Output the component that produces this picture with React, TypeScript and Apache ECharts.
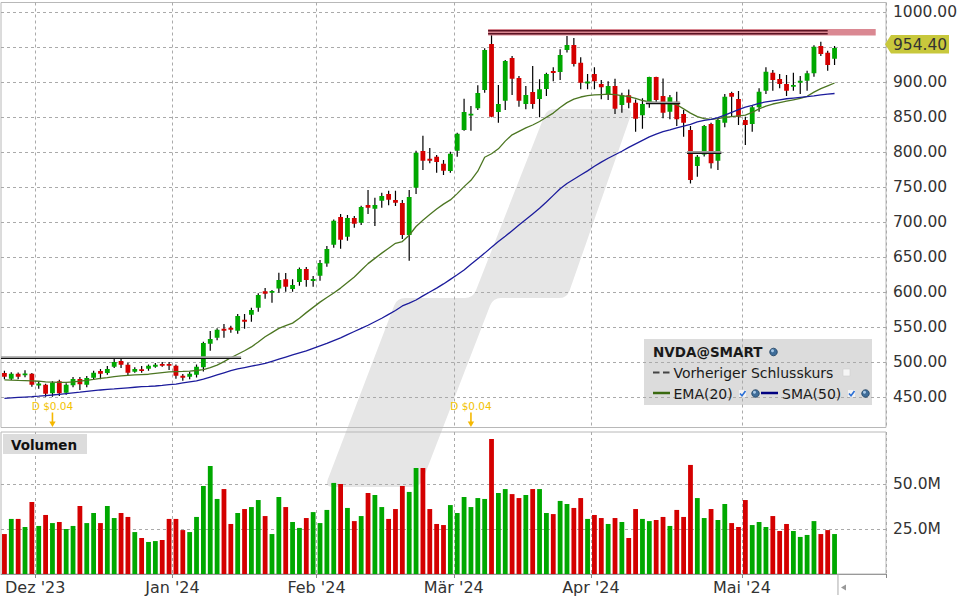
import React, { useEffect, useRef } from 'react';
import * as echarts from 'echarts';

// ---------- data ----------
const dates = [
  '2023-11-24', '2023-11-27', '2023-11-28', '2023-11-29', '2023-11-30',
  '2023-12-01', '2023-12-04', '2023-12-05', '2023-12-06', '2023-12-07', '2023-12-08', '2023-12-11', '2023-12-12', '2023-12-13', '2023-12-14', '2023-12-15',
  '2023-12-18', '2023-12-19', '2023-12-20', '2023-12-21', '2023-12-22', '2023-12-26', '2023-12-27', '2023-12-28', '2023-12-29',
  '2024-01-02', '2024-01-03', '2024-01-04', '2024-01-05', '2024-01-08', '2024-01-09', '2024-01-10', '2024-01-11', '2024-01-12', '2024-01-16',
  '2024-01-17', '2024-01-18', '2024-01-19', '2024-01-22', '2024-01-23', '2024-01-24', '2024-01-25', '2024-01-26', '2024-01-29', '2024-01-30', '2024-01-31',
  '2024-02-01', '2024-02-02', '2024-02-05', '2024-02-06', '2024-02-07', '2024-02-08', '2024-02-09', '2024-02-12', '2024-02-13', '2024-02-14',
  '2024-02-15', '2024-02-16', '2024-02-20', '2024-02-21', '2024-02-22', '2024-02-23', '2024-02-26', '2024-02-27', '2024-02-28', '2024-02-29',
  '2024-03-01', '2024-03-04', '2024-03-05', '2024-03-06', '2024-03-07', '2024-03-08', '2024-03-11', '2024-03-12', '2024-03-13', '2024-03-14',
  '2024-03-15', '2024-03-18', '2024-03-19', '2024-03-20', '2024-03-21', '2024-03-22', '2024-03-25', '2024-03-26', '2024-03-27', '2024-03-28',
  '2024-04-01', '2024-04-02', '2024-04-03', '2024-04-04', '2024-04-05', '2024-04-08', '2024-04-09', '2024-04-10', '2024-04-11', '2024-04-12',
  '2024-04-15', '2024-04-16', '2024-04-17', '2024-04-18', '2024-04-19', '2024-04-22', '2024-04-23', '2024-04-24', '2024-04-25', '2024-04-26',
  '2024-04-29', '2024-04-30',
  '2024-05-01', '2024-05-02', '2024-05-03', '2024-05-06', '2024-05-07', '2024-05-08', '2024-05-09', '2024-05-10', '2024-05-13', '2024-05-14',
  '2024-05-15', '2024-05-16', '2024-05-17', '2024-05-20',
];
const padSlots = ['p1', 'p2', 'p3', 'p4', 'p5', 'p6', 'p7'];

const openP = [
  484.8, 476.7, 483.8, 481.5, 483.8, 467.1, 468.1, 455.7, 472.9, 456.7,
  467.1, 476.2, 468.1, 478.1, 487.6, 484.8, 493.8, 501.9, 496.7, 486.7,
  490.0, 490.9, 493.8, 497.6, 497.6, 495.2, 480.9, 479.5, 482.3, 492.8,
  526.6, 535.2, 548.0, 549.5, 545.2, 560.9, 568.0, 578.0, 601.4, 599.5,
  605.4, 618.7, 604.7, 614.7, 633.2, 616.1, 623.7, 641.3, 668.0, 707.5,
  679.4, 706.1, 699.4, 724.7, 719.4, 730.9, 740.4, 731.8, 727.5, 681.8,
  749.4, 801.8, 790.9, 793.8, 783.8, 773.3, 802.4, 831.9, 852.8, 862.8,
  889.0, 954.7, 857.6, 873.8, 934.7, 906.2, 869.0, 886.2, 876.2, 890.5,
  916.2, 914.7, 946.2, 953.3, 928.1, 898.6, 911.9, 897.6, 883.3, 894.7,
  867.5, 881.4, 870.9, 852.8, 871.8, 907.5, 880.4, 858.0, 872.3, 854.7,
  831.8, 780.4, 797.0, 840.4, 788.0, 842.3, 884.7, 876.1, 846.1, 840.4,
  864.2, 888.0, 913.8, 904.7, 897.6, 893.8, 899.5, 902.3, 912.8, 951.9,
  942.3, 933.8,
];
const highP = [
  488.0, 486.0, 485.5, 488.6, 484.8, 472.9, 469.5, 472.9, 475.2, 470.0,
  479.0, 479.0, 480.5, 488.0, 490.5, 494.8, 504.8, 504.8, 499.5, 492.9,
  494.8, 497.0, 499.0, 500.4, 500.4, 497.0, 483.3, 486.6, 497.0, 529.5,
  544.7, 548.5, 554.7, 552.3, 569.0, 569.0, 578.0, 598.5, 606.1, 603.3,
  628.0, 627.5, 618.5, 635.6, 636.0, 623.2, 646.0, 666.1, 704.2, 711.8,
  710.4, 709.0, 723.7, 746.1, 735.1, 742.3, 745.2, 745.2, 731.8, 746.1,
  802.3, 823.7, 806.2, 796.2, 789.0, 800.9, 828.0, 876.6, 866.2, 895.7,
  948.6, 972.4, 896.2, 931.9, 937.6, 909.0, 894.7, 923.3, 904.3, 913.8,
  921.4, 947.1, 966.2, 963.3, 935.7, 911.9, 921.4, 903.3, 901.4, 905.2,
  885.2, 889.9, 875.6, 877.1, 908.0, 908.0, 905.6, 881.8, 886.6, 860.4,
  837.5, 796.1, 839.0, 842.3, 848.5, 883.3, 886.6, 887.6, 850.9, 866.1,
  891.4, 921.4, 917.6, 911.9, 910.4, 913.8, 909.0, 916.6, 952.8, 958.0,
  945.2, 951.9,
];
const lowP = [
  475.7, 474.8, 476.0, 478.6, 465.2, 462.4, 451.0, 451.0, 451.9, 453.8,
  464.3, 460.5, 464.3, 474.8, 475.7, 482.4, 491.9, 491.9, 481.4, 485.2,
  485.2, 488.0, 492.3, 493.8, 489.0, 476.6, 473.8, 475.7, 478.5, 487.0,
  516.6, 531.4, 535.2, 542.3, 540.9, 548.0, 558.0, 572.3, 590.9, 585.2,
  599.5, 600.9, 600.9, 609.4, 608.0, 608.0, 616.6, 636.6, 663.7, 662.3,
  673.7, 692.3, 696.1, 711.8, 694.7, 720.9, 724.2, 723.3, 676.1, 645.2,
  740.4, 774.7, 784.3, 770.9, 767.6, 770.9, 793.8, 830.9, 830.9, 860.5,
  885.2, 850.0, 842.4, 860.5, 881.9, 865.2, 861.4, 862.4, 850.0, 880.5,
  901.4, 903.3, 942.4, 922.4, 890.0, 890.0, 890.0, 875.7, 874.7, 854.7,
  856.6, 862.8, 829.4, 833.7, 863.7, 869.9, 848.5, 847.1, 837.5, 822.3,
  755.6, 765.2, 794.0, 777.0, 774.7, 835.7, 850.9, 839.0, 810.4, 829.5,
  858.0, 883.3, 888.0, 891.4, 880.4, 888.0, 883.3, 888.0, 908.0, 937.6,
  916.6, 924.7,
];
const closeP = [
  479.5, 483.8, 479.5, 483.8, 468.1, 469.5, 455.2, 471.0, 455.7, 468.1,
  476.2, 468.6, 477.6, 485.2, 483.8, 490.5, 500.5, 496.7, 485.2, 490.5,
  488.0, 495.2, 496.6, 495.2, 495.2, 480.9, 478.0, 483.8, 493.8, 527.6,
  533.3, 546.6, 545.2, 546.6, 566.1, 558.0, 574.7, 596.1, 598.0, 601.9,
  617.6, 608.0, 610.4, 633.2, 617.5, 619.0, 641.8, 661.8, 702.3, 675.2,
  706.1, 698.0, 721.8, 720.9, 724.7, 737.5, 732.3, 728.0, 681.8, 736.1,
  799.4, 788.0, 788.1, 786.2, 773.8, 798.1, 826.6, 857.6, 854.7, 884.7,
  946.2, 850.9, 869.0, 930.5, 905.2, 873.8, 881.9, 869.0, 890.0, 911.9,
  913.3, 939.0, 953.3, 926.2, 899.5, 900.9, 901.4, 892.8, 894.7, 862.4,
  881.4, 870.9, 848.0, 869.0, 907.5, 874.7, 856.6, 878.5, 847.1, 842.3,
  760.4, 793.7, 837.5, 784.2, 846.1, 879.5, 879.5, 850.9, 839.0, 864.2,
  886.6, 915.2, 903.3, 897.6, 888.0, 896.1, 902.3, 912.8, 950.9, 940.4,
  924.7, 949.0,
];
const volumeM = [
  22.2, 30.6, 30.6, 26.1, 40.0, 26.7, 32.8, 28.3, 28.9, 25.0,
  26.7, 37.8, 28.3, 33.9, 28.3, 37.8, 31.1, 33.9, 31.7, 23.3,
  20.0, 17.8, 18.3, 18.9, 30.6, 30.6, 24.4, 23.3, 31.7, 48.9,
  60.0, 41.7, 47.2, 27.8, 33.9, 36.1, 37.2, 41.1, 32.2, 22.2,
  42.8, 37.2, 28.9, 25.6, 31.1, 34.4, 28.3, 35.6, 50.6, 50.0,
  36.7, 29.4, 32.2, 45.0, 43.9, 37.2, 30.6, 36.1, 48.9, 45.6,
  58.9, 58.9, 36.1, 27.8, 27.2, 38.3, 33.9, 42.8, 37.2, 42.2,
  41.7, 75.0, 45.0, 47.2, 44.4, 42.2, 43.9, 47.2, 47.2, 33.9,
  33.3, 40.6, 38.9, 36.7, 42.2, 30.6, 32.8, 31.1, 27.8, 31.1,
  28.9, 20.0, 36.1, 30.6, 29.4, 30.0, 31.7, 26.7, 35.6, 31.7,
  60.6, 42.2, 31.1, 36.1, 30.0, 38.9, 28.3, 26.1, 41.1, 27.2,
  28.9, 26.1, 32.2, 23.9, 27.8, 23.9, 20.6, 21.7, 29.4, 22.2,
  24.4, 22.2,
];
const ema20 = [
  475.0, 474.6, 474.2, 474.0, 473.5, 473.0, 472.2, 471.8, 471.4, 471.5,
  472.2, 473.0, 474.2, 475.5, 477.0, 478.2, 479.5, 480.6, 481.4, 482.0,
  482.5, 483.0, 484.2, 485.4, 486.5, 486.8, 487.0, 487.5, 488.3, 489.5,
  492.5, 496.0, 501.0, 506.5, 511.5, 516.5, 522.0, 529.0, 536.5, 542.5,
  548.5, 552.5, 556.0, 563.0, 571.0, 578.5, 586.0, 592.5, 599.0, 606.0,
  614.0, 622.0, 631.5, 641.0, 648.5, 656.0, 663.0, 670.0, 672.5, 681.5,
  694.0, 703.0, 711.0, 719.0, 726.0, 732.0, 741.0, 751.0, 760.0, 773.0,
  793.0, 798.0, 805.0, 816.0, 825.0, 830.0, 835.0, 839.0, 844.0, 850.0,
  856.0, 864.0, 871.0, 876.0, 879.0, 881.0, 882.0, 882.5, 883.0, 882.5,
  881.0, 879.5, 877.0, 874.0, 872.0, 871.0, 870.0, 869.5, 868.0, 862.0,
  856.0, 851.0, 848.0, 847.0, 848.0, 850.0, 851.0, 852.0, 853.0, 857.0,
  862.0, 866.0, 869.0, 871.0, 873.0, 875.0, 877.0, 880.0, 886.0, 891.0,
  895.0, 899.0,
];
const sma50 = [
  448.6, 449.2, 449.8, 450.4, 451.0, 451.7, 452.5, 453.3, 454.3, 455.3,
  456.3, 457.3, 458.4, 459.5, 460.5, 461.3, 462.0, 462.8, 463.6, 464.4,
  465.2, 465.6, 466.2, 467.0, 468.0, 469.0, 470.5, 472.0, 473.5, 476.0,
  479.0, 482.0, 485.0, 488.0, 490.5, 492.5, 494.5, 496.5, 498.5, 501.5,
  504.5, 507.5, 510.5, 513.5, 516.5, 520.0, 523.5, 527.0, 531.0, 535.0,
  539.5, 544.0, 548.5, 553.0, 558.0, 563.0, 568.5, 574.0, 580.5, 584.5,
  589.0, 595.0, 600.5, 606.0, 612.0, 618.5, 625.0, 632.0, 640.0, 648.0,
  656.0, 664.5, 672.5, 680.0, 688.0, 696.0, 704.0, 712.0, 720.0, 729.0,
  738.5, 748.0, 755.5, 761.5, 767.5, 773.5, 780.0, 786.0, 791.5, 796.5,
  801.5, 807.0, 812.0, 817.0, 822.0, 826.0, 829.5, 832.0, 835.0, 837.5,
  840.0, 843.5, 845.5, 847.0, 849.5, 853.0, 857.0, 861.0, 864.5, 867.0,
  870.0, 872.0, 873.5, 875.0, 876.5, 877.5, 878.5, 879.5, 880.5, 882.0,
  883.0, 884.0,
];
const priceTicks = [450, 500, 550, 600, 650, 700, 750, 800, 850, 900, 950, 1000];
const volumeTicks = [25, 50];
const monthNames = ['Jan', 'Feb', 'Mär', 'Apr', 'Mai', 'Jun', 'Jul', 'Aug', 'Sep', 'Okt', 'Nov', 'Dez'];
const lastPrice = 954.4;
const dividendDates = ['2023-12-05', '2024-03-05'];
const dividendText = 'D $0.04';
const rangeHighStart = '2024-03-08';
const rangeHighLineEnd = '2024-05-17';
const rangeHighBand = [966.9, 976.1];
const rangeHighLines = [969.2, 973.8];
const supportLines = [
  { from: '2023-11-24', to: '2024-01-16', value: 505.5 },
  { from: '2024-04-11', to: '2024-04-17', value: 869.5 },
  { from: '2024-04-19', to: '2024-04-25', value: 798.6 },
];

const UP = '#00a800';
const DOWN = '#d40000';
const FONT = 'DejaVu Sans';

// decorative background watermark (rounded slanted strokes)
const WATERMARK_D =
  'M333 487 Q325 487 327.8 479.5 L394.2 305.5 Q397 298 405 298 L465 298 Q473 298 475.9 290.6 ' +
  'L544.1 116.4 Q547 109 555 109 L625 109 Q633 109 630.4 116.6 L569.6 290.4 Q567 298 559 298 ' +
  'L501 298 Q493 298 490.1 305.5 L422.9 479.5 Q420 487 412 487 Z';
let watermarkRegistered = false;

export default function App() {
  const ref = useRef<HTMLDivElement>(null);

  useEffect(() => {
    if (!ref.current) return;
    if (!watermarkRegistered) {
      echarts.graphic.registerShape('wmark', echarts.graphic.extendPath(WATERMARK_D, {}) as any);
      watermarkRegistered = true;
    }
    const chart = echarts.init(ref.current, null, { renderer: 'svg' });
    const categories = [...dates, ...padSlots];
    const monthStart = new Set<number>();
    dates.forEach((d, i) => {
      if (i > 0 && d.slice(0, 7) !== dates[i - 1].slice(0, 7)) monthStart.add(i);
    });
    const isMonthStart = (i: number) => monthStart.has(i);
    const monthLabel = (v: string) => {
      const parts = v.split('-');
      if (parts.length < 2) return '';
      return `${monthNames[+parts[1] - 1]} '${parts[0].slice(2)}`;
    };
    const gridLine = { color: '#aaaaaa', type: [3, 3], width: 1 };
    // axis labels hidden where the last-price tag covers them
    const priceLabelValues = priceTicks.filter((v) => Math.abs(v - lastPrice) > 15);

    const candleData = dates.map((d, i) => [i, openP[i], closeP[i], lowP[i], highP[i]]);

    const option: any = {
      animation: false,
      backgroundColor: '#ffffff',
      textStyle: { fontFamily: FONT },
      grid: [
        { left: 1, top: 2.5, width: 885, height: 425, show: true, borderColor: '#b8b8b8', borderWidth: 1, backgroundColor: 'transparent', containLabel: false, outerBoundsMode: 'none' },
        { left: 1, top: 432, width: 885, height: 142, show: true, borderColor: '#b8b8b8', borderWidth: 1, backgroundColor: 'transparent', containLabel: false, outerBoundsMode: 'none' },
      ],
      xAxis: [
        {
          type: 'category', gridIndex: 0, data: categories, boundaryGap: true,
          axisLine: { show: false }, axisTick: { show: false }, axisLabel: { show: false },
          splitLine: { show: true, interval: (i: number) => isMonthStart(i), lineStyle: gridLine },
        },
        {
          type: 'category', gridIndex: 1, data: categories, boundaryGap: true,
          axisLine: { show: true, lineStyle: { color: '#999999', width: 1 } },
          axisTick: { show: true, interval: (i: number) => isMonthStart(i), length: 4, lineStyle: { color: '#888888' } },
          axisLabel: {
            show: true, interval: (i: number) => isMonthStart(i), formatter: (v: string) => monthLabel(v),
            color: '#333333', fontSize: 16, fontFamily: FONT, margin: 5, padding: [0, 7, 0, 0],
          },
          splitLine: { show: true, interval: (i: number) => isMonthStart(i), lineStyle: gridLine },
        },
      ],
      yAxis: [
        {
          type: 'value', gridIndex: 0, position: 'right', min: 406.9, max: 1014,
          splitLine: { show: false }, axisLine: { show: false }, axisTick: { show: false },
          axisLabel: { customValues: priceLabelValues, formatter: (v: number) => v.toFixed(2), color: '#333333', fontSize: 15.5, fontFamily: FONT, margin: 7 },
        },
        {
          type: 'value', gridIndex: 1, position: 'right', min: 0, max: 78.9,
          splitLine: { show: false }, axisLine: { show: false }, axisTick: { show: false },
          axisLabel: { customValues: volumeTicks, formatter: (v: number) => v.toFixed(1) + 'M', color: '#333333', fontSize: 15.5, fontFamily: FONT, margin: 7 },
        },
      ],
      series: [
        {
          type: 'line', name: 'priceGrid', xAxisIndex: 0, yAxisIndex: 0, data: [], silent: true,
          markLine: { z: 1, silent: true, symbol: ['none', 'none'], label: { show: false }, lineStyle: gridLine, emphasis: { disabled: true }, data: priceTicks.map((v) => ({ yAxis: v })) },
        },
        {
          type: 'line', name: 'volGrid', xAxisIndex: 1, yAxisIndex: 1, data: [], silent: true,
          markLine: { z: 1, silent: true, symbol: ['none', 'none'], label: { show: false }, lineStyle: gridLine, emphasis: { disabled: true }, data: volumeTicks.map((v) => ({ yAxis: v })) },
        },
        {
          type: 'custom', name: 'NVDA@SMART', xAxisIndex: 0, yAxisIndex: 0, z: 3, silent: true, clip: true,
          encode: { x: 0, y: [1, 2, 3, 4] },
          data: candleData,
          renderItem: (params: any, api: any) => {
            const i = api.value(0);
            const o = api.value(1), c = api.value(2), l = api.value(3), h = api.value(4);
            const pHi = api.coord([i, h]);
            const pLo = api.coord([i, l]);
            const pTop = api.coord([i, Math.max(o, c)]);
            const pBot = api.coord([i, Math.min(o, c)]);
            const bw = api.size([1, 0])[0] * 0.7;
            const raw = pBot[1] - pTop[1];
            const hgt = Math.max(raw, 1.8);
            return {
              type: 'group',
              children: [
                { type: 'line', shape: { x1: pHi[0], y1: pHi[1], x2: pLo[0], y2: pLo[1] }, style: { stroke: '#000000', lineWidth: 1.2 } },
                { type: 'rect', shape: { x: pTop[0] - bw / 2, y: pTop[1] - (hgt - raw) / 2, width: bw, height: hgt }, style: { fill: c >= o ? UP : DOWN } },
              ],
            };
          },
        },
        {
          type: 'line', name: 'EMA(20)', xAxisIndex: 0, yAxisIndex: 0, data: ema20, z: 4, silent: true,
          symbol: 'none', showSymbol: false, lineStyle: { color: '#4c7622', width: 1.3 },
        },
        {
          type: 'line', name: 'SMA(50)', xAxisIndex: 0, yAxisIndex: 0, data: sma50, z: 4, silent: true,
          symbol: 'none', showSymbol: false, lineStyle: { color: '#1c1c9c', width: 1.3 },
        },
        {
          type: 'bar', name: 'Volumen', xAxisIndex: 1, yAxisIndex: 1, z: 2, silent: true, barWidth: '70%',
          data: volumeM.map((v, i) => ({ value: v, itemStyle: { color: closeP[i] >= openP[i] ? UP : DOWN } })),
        },
      ],
    };
    chart.setOption(option);

    // ---------- annotations placed through the chart's own scales ----------
    const P = (i: number, v: number) => chart.convertToPixel({ gridIndex: 0 } as any, [i, v]) as unknown as number[];
    const V = (i: number, v: number) => chart.convertToPixel({ gridIndex: 1 } as any, [i, v]) as unknown as number[];
    const band = P(1, 500)[0] - P(0, 500)[0];
    const leftEdge = (i: number) => P(i, 500)[0] - band / 2;
    const rightEdge = (i: number) => P(i, 500)[0] + band / 2;
    const gridRight = rightEdge(categories.length - 1);
    const priceBottom = P(0, 406.9)[1];
    const volBottom = V(0, 0)[1];
    const idx = (d: string) => dates.indexOf(d);

    const els: any[] = [];
    // watermark (decoration)
    els.push({ type: 'wmark', z: -10, silent: true, x: 0, y: 0, style: { fill: '#e6e6e6' } });
    // range-high band
    const xb0 = leftEdge(idx(rangeHighStart));
    const xb1 = P(categories.length - 2, 500)[0];
    const yb0 = P(0, rangeHighBand[1])[1];
    const yb1 = P(0, rangeHighBand[0])[1];
    els.push({ type: 'rect', z: 5, silent: true, shape: { x: xb0, y: yb0, width: xb1 - xb0, height: yb1 - yb0 }, style: { fill: '#da8892' } });
    const xl1 = P(idx(rangeHighLineEnd), 500)[0];
    rangeHighLines.forEach((v) => {
      const y = P(0, v)[1];
      els.push({ type: 'line', z: 6, silent: true, shape: { x1: xb0, y1: y, x2: xl1, y2: y }, style: { stroke: '#5a1222', lineWidth: 1.5 } });
    });
    // support lines
    supportLines.forEach((s) => {
      const x1 = Math.max(leftEdge(idx(s.from)), leftEdge(0));
      const x2 = rightEdge(idx(s.to));
      const y = P(0, s.value)[1];
      els.push({ type: 'line', z: 6, silent: true, shape: { x1, y1: y - 1.2, x2, y2: y - 1.2 }, style: { stroke: '#a0a0a0', lineWidth: 2 } });
      els.push({ type: 'line', z: 7, silent: true, shape: { x1, y1: y, x2, y2: y }, style: { stroke: '#111111', lineWidth: 1.2 } });
    });
    // dividend markers
    dividendDates.forEach((d) => {
      const x = P(idx(d), 500)[0];
      els.push({
        type: 'text', z: 6, silent: true, x, y: priceBottom - 22,
        style: { text: dividendText, fill: '#f2c200', fontSize: 10.5, fontFamily: FONT, align: 'center', verticalAlign: 'middle', textAlign: 'center', textVerticalAlign: 'middle' },
      });
      els.push({ type: 'line', z: 6, silent: true, shape: { x1: x, y1: priceBottom - 15, x2: x, y2: priceBottom - 5 }, style: { stroke: '#f5b800', lineWidth: 1.6 } });
      els.push({ type: 'polygon', z: 6, silent: true, shape: { points: [[x - 3.2, priceBottom - 6], [x + 3.2, priceBottom - 6], [x, priceBottom - 0.5]] }, style: { fill: '#f5b800' } });
    });
    // last price label
    const yl = P(0, lastPrice)[1];
    els.push({
      type: 'polygon', z: 8, silent: true,
      shape: { points: [[gridRight - 1, yl], [gridRight + 5, yl - 9.2], [gridRight + 63, yl - 9.2], [gridRight + 63, yl + 9.2], [gridRight + 5, yl + 9.2]] },
      style: { fill: '#c8c83c' },
    });
    els.push({
      type: 'text', z: 9, silent: true, x: gridRight + 7, y: yl + 0.5,
      style: { text: lastPrice.toFixed(2), fill: '#333333', fontSize: 15.5, fontFamily: FONT, align: 'left', verticalAlign: 'middle', textAlign: 'left', textVerticalAlign: 'middle' },
    });
    // end-of-data marker
    const xe = rightEdge(dates.length - 1);
    els.push({ type: 'line', z: 6, silent: true, shape: { x1: xe, y1: volBottom, x2: xe, y2: volBottom + 21 }, style: { stroke: '#aaaaaa', lineWidth: 1 } });
    els.push({ type: 'polygon', z: 6, silent: true, shape: { points: [[xe + 3, volBottom + 13.5], [xe + 8, volBottom + 10.5], [xe + 8, volBottom + 16.5]] }, style: { fill: '#999999' } });

    // volume title
    els.push({ type: 'rect', z: 6, silent: true, shape: { x: 3, y: 434, width: 84, height: 20 }, style: { fill: '#dcdcdc' } });
    els.push({
      type: 'text', z: 7, silent: true, x: 11, y: 444.5,
      style: { text: 'Volumen', fill: '#111111', fontSize: 13.5, fontWeight: 'bold', fontFamily: FONT, align: 'left', verticalAlign: 'middle', textAlign: 'left', textVerticalAlign: 'middle' },
    });

    // legend box
    const txt = (text: string, x: number, y: number, bold = false) => ({
      type: 'text', z: 11, silent: true, x, y,
      style: { text, fill: '#1a1a1a', fontSize: bold ? 13.5 : 14, fontWeight: bold ? 'bold' : 'normal', fontFamily: FONT, align: 'left', verticalAlign: 'middle', textAlign: 'left', textVerticalAlign: 'middle' },
    });
    const globe = (x: number, y: number) => [
      { type: 'circle', z: 11, silent: true, shape: { cx: x, cy: y, r: 3.8 }, style: { fill: '#3f6d99', stroke: '#20405f', lineWidth: 0.8 } },
      { type: 'circle', z: 12, silent: true, shape: { cx: x - 1, cy: y - 1.2, r: 1.5 }, style: { fill: '#a8c8e6' } },
    ];
    const check = (x: number, y: number) => [
      { type: 'rect', z: 11, silent: true, shape: { x: x, y: y - 3.5, width: 7, height: 7 }, style: { fill: '#f2f2f2' } },
      { type: 'polyline', z: 12, silent: true, shape: { points: [[x + 1, y], [x + 3, y + 2.3], [x + 6.5, y - 2.5]] }, style: { stroke: '#2a6fd6', lineWidth: 1.6, fill: 'none' } },
    ];
    els.push({ type: 'rect', z: -5, silent: true, shape: { x: 644, y: 339, width: 228, height: 66 }, style: { fill: '#dcdcdc' } });
    els.push(txt('NVDA@SMART', 653, 352, true));
    els.push(...globe(773.5, 352));
    els.push({ type: 'line', z: 11, silent: true, shape: { x1: 653, y1: 372.5, x2: 659.5, y2: 372.5 }, style: { stroke: '#444444', lineWidth: 2 } });
    els.push({ type: 'line', z: 11, silent: true, shape: { x1: 663, y1: 372.5, x2: 669.5, y2: 372.5 }, style: { stroke: '#444444', lineWidth: 2 } });
    els.push(txt('Vorheriger Schlusskurs', 673.5, 372.5));
    els.push({ type: 'rect', z: 11, silent: true, shape: { x: 843, y: 369, width: 7, height: 7 }, style: { fill: '#f6f6f6', stroke: '#d0d0d0', lineWidth: 0.6 } });
    els.push({ type: 'line', z: 11, silent: true, shape: { x1: 653, y1: 393, x2: 670, y2: 393 }, style: { stroke: '#3a6a10', lineWidth: 2.5 } });
    els.push(txt('EMA(20)', 673.5, 393.5));
    els.push(...check(739, 393.5));
    els.push(...globe(755.5, 393.5));
    els.push({ type: 'line', z: 11, silent: true, shape: { x1: 761, y1: 393, x2: 778, y2: 393 }, style: { stroke: '#000080', lineWidth: 2.5 } });
    els.push(txt('SMA(50)', 782, 393.5));
    els.push(...check(848, 393.5));
    els.push(...globe(865.5, 393.5));

    chart.setOption({ graphic: { elements: els } });

    return () => chart.dispose();
  }, []);

  return <div ref={ref} style={{ position: 'absolute', left: 0, top: 0, width: 960, height: 600, background: '#ffffff' }} />;
}
